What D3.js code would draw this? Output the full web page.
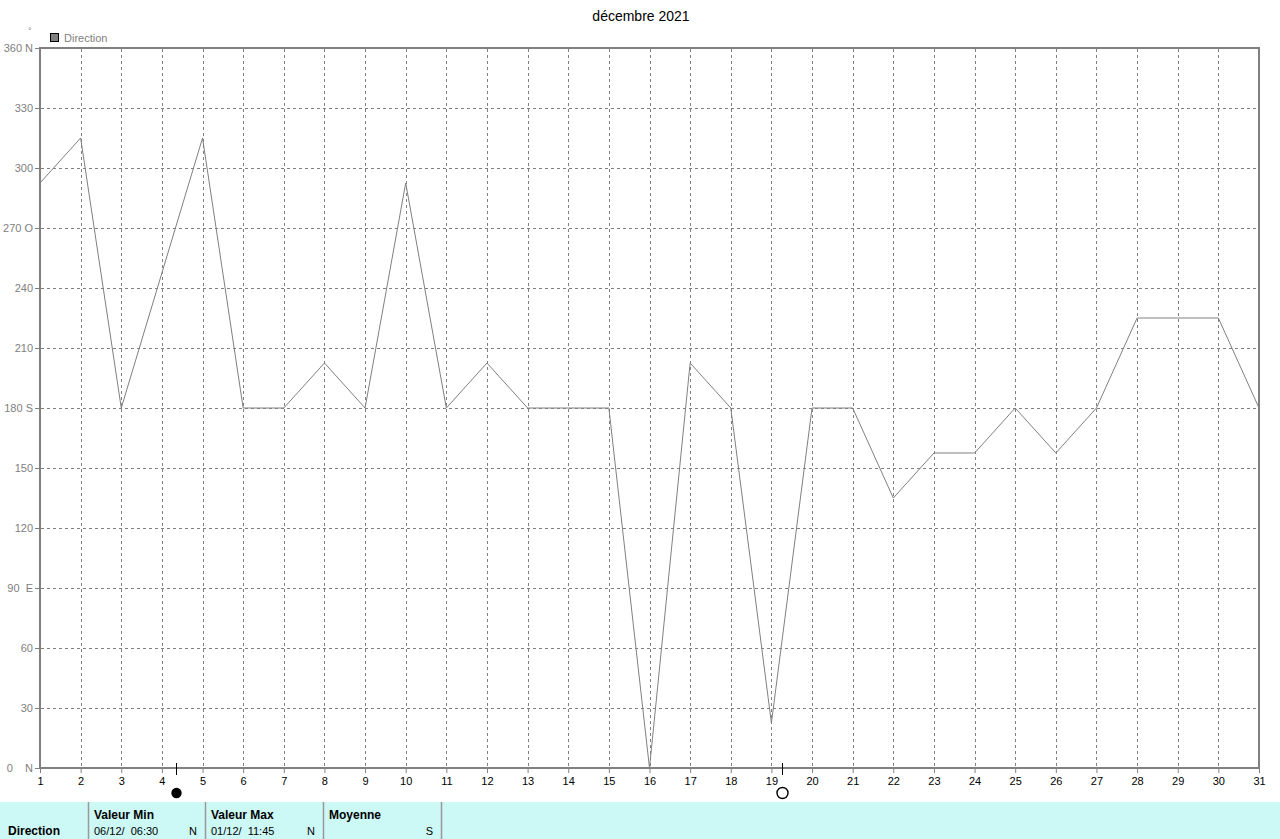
<!DOCTYPE html>
<html><head><meta charset="utf-8">
<script src="https://cdn.jsdelivr.net/npm/d3@7"></script>
<style>
html,body{margin:0;padding:0;background:#fff;}
svg{display:block;font-family:"Liberation Sans",Arial,sans-serif;}
</style></head>
<body>
<svg id="c" width="1280" height="839"></svg>
<script>
const days = d3.range(1, 32);
const direction = [292.5,315,180,247.5,315,180,180,202.5,180,292.5,180,202.5,180,180,180,0,202.5,180,22.5,180,180,135,157.5,157.5,180,157.5,180,225,225,225,180];
const yTicks = [0,30,60,90,120,150,180,210,240,270,300,330,360];
const yTickLabels = ["0    N","30","60","90  E","120","150","180 S","210","240","270 O","300","330","360 N"];
const moonDays = [4.35, 19.25];
const moonTypes = ["new","full"];
const title = "décembre 2021";
const seriesName = "Direction";
const tableHeaders = ["Valeur Min","Valeur Max","Moyenne"];
const tableValues = ["06/12/  06:30","01/12/  11:45",""];
const tableUnits = ["N","N","S"];

const svg = d3.select("#c");
const x = d3.scaleLinear().domain([1,31]).range([40,1259]);
const y = d3.scaleLinear().domain([0,360]).range([768,48]);
const gray = "#808080";

svg.append("text").attr("x",641).attr("y",21).attr("text-anchor","middle")
  .attr("font-size",14).attr("fill","#000").text(title);
svg.append("text").attr("x",28).attr("y",34).attr("font-size",9).attr("fill",gray).text("°");
svg.append("rect").attr("x",50.5).attr("y",33.5).attr("width",8).attr("height",8)
  .attr("fill","#808080").attr("stroke","#000");
svg.append("text").attr("x",64).attr("y",42).attr("font-size",11).attr("fill",gray).text(seriesName);

// grid
svg.append("g").selectAll("line").data(yTicks.filter(d=>d>0&&d<360)).join("line")
  .attr("x1",41).attr("x2",1258).attr("y1",d=>Math.round(y(d))+0.5).attr("y2",d=>Math.round(y(d))+0.5)
  .attr("stroke",gray).attr("stroke-dasharray","3,3");
svg.append("g").selectAll("line").data(days.filter(d=>d>1&&d<31)).join("line")
  .attr("y1",49).attr("y2",767).attr("x1",d=>Math.round(x(d))+0.5).attr("x2",d=>Math.round(x(d))+0.5)
  .attr("stroke",gray).attr("stroke-dasharray","3,3");

// frame
svg.append("rect").attr("x",40).attr("y",48).attr("width",1219).attr("height",720)
  .attr("fill","none").attr("stroke",gray).attr("stroke-width",2);

// y axis
const yAxis = d3.axisLeft(y).tickValues(yTicks).tickSize(4).tickPadding(2)
  .tickFormat((d,i)=>yTickLabels[i]);
const gy = svg.append("g").attr("transform","translate(39,0)").call(yAxis);
gy.select(".domain").remove();
gy.selectAll("line").attr("stroke",gray);
gy.selectAll("text").attr("fill",gray).attr("font-size",11).attr("font-family","Liberation Sans, Arial, sans-serif").style("white-space","pre").attr("xml:space","preserve");

// x axis
const xAxis = d3.axisBottom(x).tickValues(days).tickSize(4).tickPadding(4).tickFormat(d3.format("d"));
const gx = svg.append("g").attr("transform","translate(0,769)").call(xAxis);
gx.select(".domain").remove();
gx.selectAll("line").attr("stroke",gray);
gx.selectAll("text").attr("fill","#000").attr("font-size",11).attr("font-family","Liberation Sans, Arial, sans-serif");

// series
const line = d3.line().x((d,i)=>x(days[i])).y(d=>y(d));
svg.append("path").datum(direction).attr("d",line).attr("fill","none")
  .attr("stroke",gray).attr("stroke-width",1);

// moon phases
moonDays.forEach((m,i)=>{
  const mx = Math.round(x(m))+0.5;
  svg.append("line").attr("x1",mx).attr("x2",mx).attr("y1",763).attr("y2",775).attr("stroke","#000");
  svg.append("circle").attr("cx",mx).attr("cy",793).attr("r",moonTypes[i]==="new"?4.5:5.5)
    .attr("fill",moonTypes[i]==="new"?"#000":"#fff").attr("stroke","#000").attr("stroke-width",1.4);
});

// table
svg.append("rect").attr("x",0).attr("y",802).attr("width",1280).attr("height",37).attr("fill","#ccf8f6");
const colX = [88,205,323,441];
colX.forEach(cx=>svg.append("line").attr("x1",cx+0.5).attr("x2",cx+0.5).attr("y1",802).attr("y2",839).attr("stroke","#999").attr("stroke-width",1.5));
svg.append("text").attr("x",8).attr("y",835).attr("font-size",12).attr("font-weight","bold").text(seriesName);
tableHeaders.forEach((h,i)=>{
  svg.append("text").attr("x",colX[i]+6).attr("y",819).attr("font-size",12).attr("font-weight","bold").text(h);
  svg.append("text").attr("x",colX[i]+6).attr("y",835).attr("font-size",11).attr("xml:space","preserve").style("white-space","pre").text(tableValues[i]);
  svg.append("text").attr("x",colX[i+1]-8).attr("y",835).attr("font-size",11).attr("text-anchor","end").text(tableUnits[i]);
});
</script>
</body></html>
